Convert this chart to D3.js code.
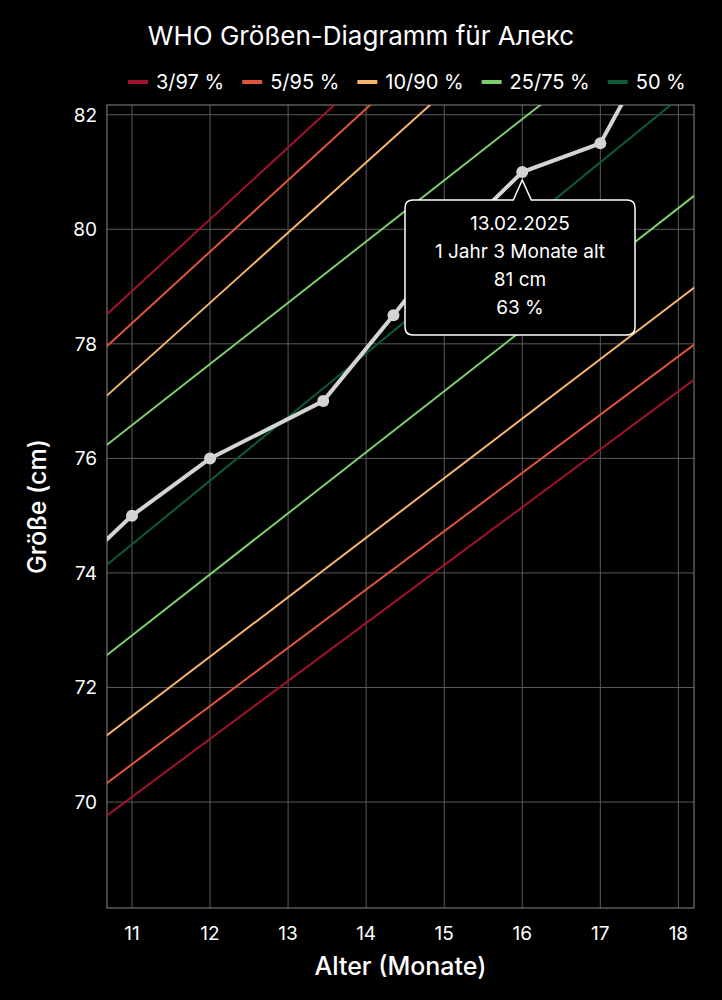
<!DOCTYPE html>
<html><head><meta charset="utf-8">
<script src="https://cdn.jsdelivr.net/npm/d3@7"></script>
<style>body{margin:0;background:#000}svg{display:block}</style>
</head><body>
<div id="chart"></div>
<script>
// percentile lines: value at month 11 and month 18
const bandMonths = [11, 18];
const percentileLines = [
  { label: '3/97 %', color: '#a3122b', lines: [[70.09, 77.17], [78.92, 87.7]] },
  { label: '5/95 %', color: '#e0543a', lines: [[70.66, 77.78], [78.36, 87.1]] },
  { label: '10/90 %', color: '#f7b46c', lines: [[71.50, 78.77], [77.49, 86.07]] },
  { label: '25/75 %', color: '#7dcc6e', lines: [[72.91, 80.37], [76.58, 84.06]] },
  { label: '50 %', color: '#0d5c33', lines: [[74.50, 82.28]] }
];
const measureMonths = [10.3, 11, 12, 13.45, 14.35, 15.1, 16, 17, 17.6];
const measureHeights = [74.1, 75, 76, 77, 78.5, 79.8, 81, 81.5, 83];
const xTicks = [11, 12, 13, 14, 15, 16, 17, 18];
const yTicks = [70, 72, 74, 76, 78, 80, 82];
const tooltipLines = ['13.02.2025', '1 Jahr 3 Monate alt', '81 cm', '63 %'];

const W = 722, H = 1000;
const m = { left: 107, right: 28, top: 105, bottom: 92 };
const svg = d3.select('#chart').append('svg').attr('width', W).attr('height', H)
  .style('font-family', 'Inter, "Noto Sans", sans-serif');

const x = d3.scaleLinear().domain([10.68, 18.2]).range([m.left, W - m.right]);
const y = d3.scaleLinear().domain([68.15, 82.17]).range([H - m.bottom, m.top]);

svg.append('defs').append('clipPath').attr('id', 'clip')
  .append('rect').attr('x', m.left).attr('y', m.top)
  .attr('width', W - m.left - m.right).attr('height', H - m.top - m.bottom);

// grid
const g = svg.append('g');
g.selectAll('.vx').data(xTicks).join('line')
  .attr('x1', d => x(d)).attr('x2', d => x(d)).attr('y1', m.top).attr('y2', H - m.bottom)
  .attr('stroke', '#5a5a5a').attr('stroke-width', 1);
g.selectAll('.hy').data(yTicks).join('line')
  .attr('y1', d => y(d)).attr('y2', d => y(d)).attr('x1', m.left).attr('x2', W - m.right)
  .attr('stroke', '#5a5a5a').attr('stroke-width', 1);
g.append('rect').attr('x', m.left).attr('y', m.top)
  .attr('width', W - m.left - m.right).attr('height', H - m.top - m.bottom)
  .attr('fill', 'none').attr('stroke', '#888');

// axes labels
svg.selectAll('.xt').data(xTicks).join('text')
  .attr('x', d => x(d)).attr('y', H - m.bottom + 32).attr('text-anchor', 'middle')
  .attr('fill', '#fff').attr('font-size', 19).text(d => d);
svg.selectAll('.yt').data(yTicks).join('text')
  .attr('x', m.left - 10).attr('y', d => y(d) + 7).attr('text-anchor', 'end')
  .attr('fill', '#fff').attr('font-size', 19).text(d => d);
svg.append('text').attr('x', (m.left + W - m.right) / 2).attr('y', 975)
  .attr('text-anchor', 'middle').attr('fill', '#fff').attr('font-size', 25)
  .attr('font-weight', 500).text('Alter (Monate)');
svg.append('text').attr('transform', `translate(46,${(m.top + H - m.bottom) / 2}) rotate(-90)`)
  .attr('text-anchor', 'middle').attr('fill', '#fff').attr('font-size', 25)
  .attr('font-weight', 500).text('Größe (cm)');

// percentile lines
const plot = svg.append('g').attr('clip-path', 'url(#clip)');
const extend = (a, b, t) => a + (b - a) * (t - bandMonths[0]) / (bandMonths[1] - bandMonths[0]);
percentileLines.forEach(p => {
  p.lines.forEach(([a, b]) => {
    plot.append('line')
      .attr('x1', x(10)).attr('y1', y(extend(a, b, 10)))
      .attr('x2', x(19)).attr('y2', y(extend(a, b, 19)))
      .attr('stroke', p.color).attr('stroke-width', 2);
  });
});

// measurements
const pts = measureMonths.map((d, i) => [d, measureHeights[i]]);
plot.append('path').datum(pts)
  .attr('d', d3.line().x(d => x(d[0])).y(d => y(d[1])))
  .attr('fill', 'none').attr('stroke', '#d4d4d4').attr('stroke-width', 4);
plot.selectAll('circle').data(pts.slice(1, -1)).join('circle')
  .attr('cx', d => x(d[0])).attr('cy', d => y(d[1])).attr('r', 6).attr('fill', '#d4d4d4');

// tooltip
const px = x(16), py = y(81) + 8;
const bx = 405, by = 200, bw = 230, bh = 135, r = 8;
const path = `M${bx + r},${by} L${px - 9},${by} L${px},${py} L${px + 9},${by} L${bx + bw - r},${by}
  Q${bx + bw},${by} ${bx + bw},${by + r} L${bx + bw},${by + bh - r} Q${bx + bw},${by + bh} ${bx + bw - r},${by + bh}
  L${bx + r},${by + bh} Q${bx},${by + bh} ${bx},${by + bh - r} L${bx},${by + r} Q${bx},${by} ${bx + r},${by} Z`;
svg.append('path').attr('d', path).attr('fill', '#000').attr('stroke', '#fff').attr('stroke-width', 1.5);
svg.selectAll('.tt').data(tooltipLines).join('text')
  .attr('x', bx + bw / 2).attr('y', (d, i) => by + 30 + i * 28).attr('text-anchor', 'middle')
  .attr('fill', '#fff').attr('font-size', 19).text(d => d);

// title
svg.append('text').attr('x', 361).attr('y', 45).attr('text-anchor', 'middle')
  .attr('fill', '#fff').attr('font-size', 26).text('WHO Größen-Diagramm für Алекс');

// legend, laid out by measured text width
let lx = 128;
percentileLines.forEach(p => {
  const lg = svg.append('g').attr('transform', `translate(${lx},82)`);
  lg.append('line').attr('x1', 0).attr('x2', 20).attr('stroke', p.color).attr('stroke-width', 4);
  const t = lg.append('text').attr('x', 28).attr('y', 7).attr('fill', '#fff')
    .attr('font-size', 20).text(p.label);
  lx += 28 + t.node().getComputedTextLength() + 18;
});
</script>
</body></html>
